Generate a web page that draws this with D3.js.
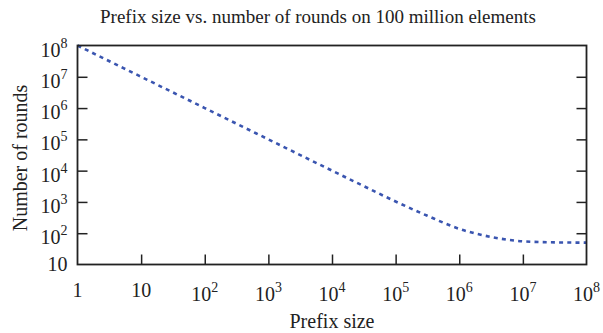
<!DOCTYPE html>
<html>
<head>
<meta charset="utf-8">
<script src="https://cdn.jsdelivr.net/npm/d3@7/dist/d3.min.js"></script>
<style>
  html, body { margin: 0; padding: 0; background: #fff; }
  svg { display: block; }
  text { font-family: "Liberation Serif", "DejaVu Serif", serif; fill: #222; }
</style>
</head>
<body>
<script>
// Prefix size (x) and the resulting number of rounds (y), on 1e8 elements
const prefixSizes = [1, 10, 1e2, 1e3, 1e4, 3.16e4, 1e5, 3.16e5, 1e6, 3.16e6, 1e7, 3.16e7, 1e8];
const rounds      = [1e8, 1e7, 1e6, 1e5, 1.0e4, 3200, 1030, 360, 138, 76, 55, 51, 50];

// Axis tick values
const xTickValues = [1, 10, 1e2, 1e3, 1e4, 1e5, 1e6, 1e7, 1e8];
const yTickValues = [10, 1e2, 1e3, 1e4, 1e5, 1e6, 1e7, 1e8];

const titleText = "Prefix size vs. number of rounds on 100 million elements";
const xTitle = "Prefix size";
const yTitle = "Number of rounds";

const W = 603, H = 333;
const m = { left: 77.5, right: 603 - 586.5, top: 45.5, bottom: 333 - 264.5 };

const svg = d3.select("body").append("svg").attr("width", W).attr("height", H);

const x = d3.scaleLog().domain([1, 1e8]).range([m.left, W - m.right]);
const y = d3.scaleLog().domain([10, 1e8]).range([H - m.bottom, m.top]);

// Labels written as 10 with a superscript exponent
function expLabel(sel, v) {
  const e = Math.round(Math.log10(v));
  sel.text(null);
  if (e === 0) { sel.append("tspan").text("1"); return; }
  sel.append("tspan").text("10");
  if (e > 1) sel.append("tspan").attr("dy", -9).attr("font-size", 14).text(e);
}

const tickLen = 10;
const g = svg.append("g");

// Data line
const line = d3.line()
  .x((d, i) => x(prefixSizes[i]))
  .y(d => y(d))
  .curve(d3.curveMonotoneX);

g.append("path")
  .datum(rounds)
  .attr("d", line)
  .attr("fill", "none")
  .attr("stroke", "#3a55b0")
  .attr("stroke-width", 2.6)
  .attr("stroke-dasharray", "4,4.2");

// Bottom axis: inward ticks
const xAxis = d3.axisBottom(x).tickValues(xTickValues).tickSizeInner(-tickLen).tickSizeOuter(0).tickFormat("");
const gx = g.append("g").attr("transform", `translate(0,${H - m.bottom})`).call(xAxis);
gx.select(".domain").remove();
gx.selectAll(".tick line").attr("stroke", "#222").attr("stroke-width", 1.5)
  .filter(d => d === 1 || d === 1e8).remove();

// Left and right axes: inward ticks
const yAxisL = d3.axisLeft(y).tickValues(yTickValues).tickSizeInner(-tickLen).tickSizeOuter(0).tickFormat("");
const gyl = g.append("g").attr("transform", `translate(${m.left},0)`).call(yAxisL);
gyl.select(".domain").remove();
gyl.selectAll(".tick line").attr("stroke", "#222").attr("stroke-width", 1.5)
  .filter(d => d === 10 || d === 1e8).remove();

const yAxisR = d3.axisRight(y).tickValues(yTickValues).tickSizeInner(-tickLen).tickSizeOuter(0).tickFormat("");
const gyr = g.append("g").attr("transform", `translate(${W - m.right},0)`).call(yAxisR);
gyr.select(".domain").remove();
gyr.selectAll(".tick line").attr("stroke", "#222").attr("stroke-width", 1.5)
  .filter(d => d === 10 || d === 1e8).remove();

// Frame
g.append("rect")
  .attr("x", m.left).attr("y", m.top)
  .attr("width", W - m.left - m.right).attr("height", H - m.top - m.bottom)
  .attr("fill", "none").attr("stroke", "#222").attr("stroke-width", 1.8);

// Tick labels
g.selectAll(".xlab").data(xTickValues).join("text")
  .attr("class", "xlab")
  .attr("x", d => x(d))
  .attr("y", d => (d >= 100 ? 301 : 297))
  .attr("text-anchor", "middle")
  .attr("font-size", 20)
  .each(function(d) { expLabel(d3.select(this), d); });

g.selectAll(".ylab").data(yTickValues).join("text")
  .attr("class", "ylab")
  .attr("x", 67.5)
  .attr("y", d => y(d) + (d >= 100 ? 11 : 6.5))
  .attr("text-anchor", "end")
  .attr("font-size", 20)
  .each(function(d) { expLabel(d3.select(this), d); });

// Titles
svg.append("text").attr("x", 318).attr("y", 23).attr("text-anchor", "middle")
  .attr("font-size", 19).text(titleText);

svg.append("text").attr("x", 332).attr("y", 328).attr("text-anchor", "middle")
  .attr("font-size", 20).text(xTitle);

svg.append("text")
  .attr("transform", `translate(27,158) rotate(-90)`)
  .attr("text-anchor", "middle")
  .attr("font-size", 20).text(yTitle);
</script>
</body>
</html>
